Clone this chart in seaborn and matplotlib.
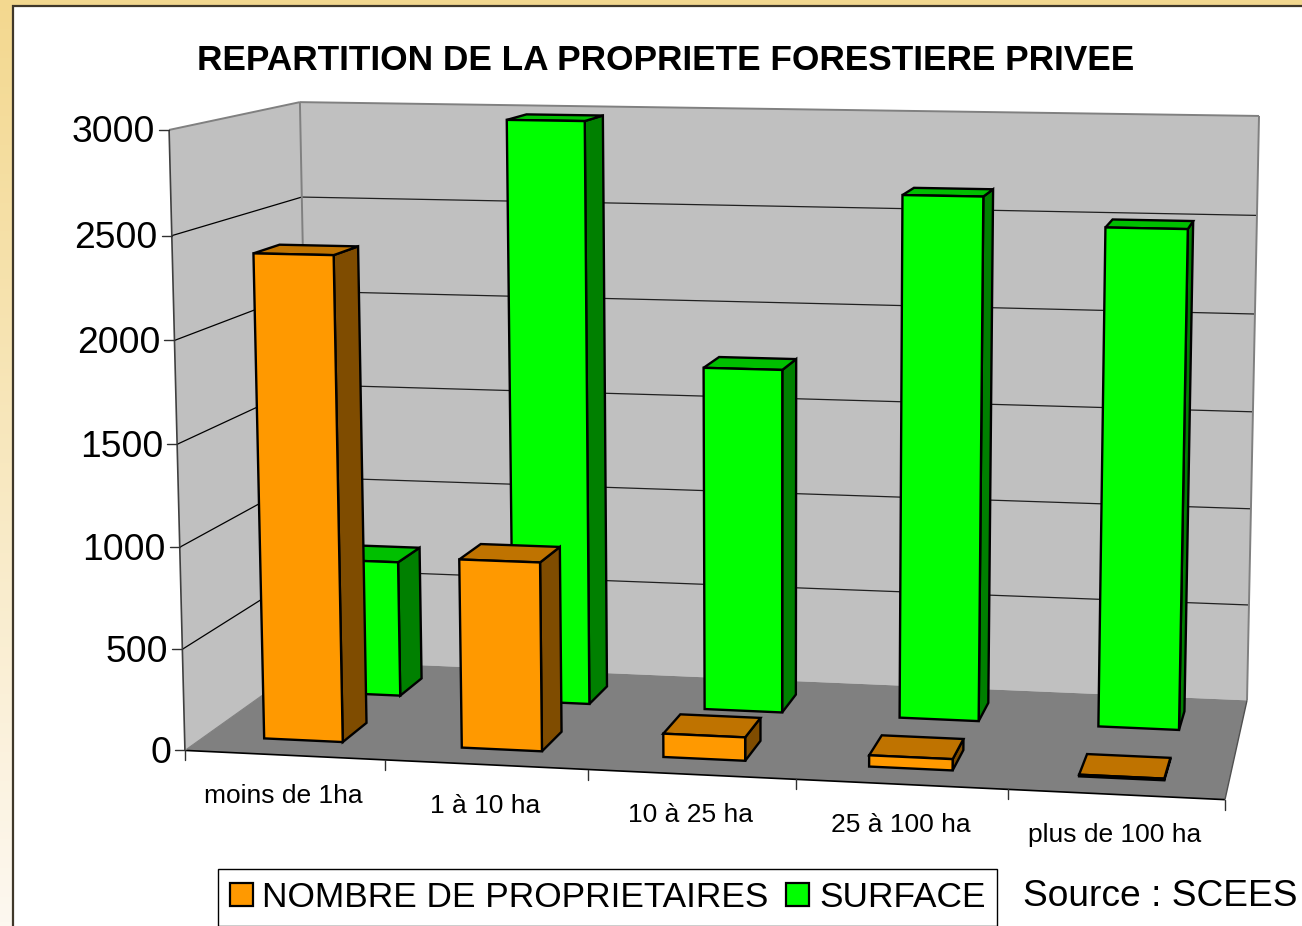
import numpy as np
import pandas as pd
import matplotlib
matplotlib.use("Agg")
import matplotlib.pyplot as plt
from matplotlib.patches import Polygon, Rectangle, Patch
import seaborn as sns

categories = ["moins de 1ha", "1 à 10 ha", "10 à 25 ha", "25 à 100 ha", "plus de 100 ha"]
proprietaires = [2390, 930, 115, 55, 8]
surface = [700, 2975, 1750, 2635, 2495]
series_names = ["NOMBRE DE PROPRIETAIRES", "SURFACE"]
y_ticks = [0, 500, 1000, 1500, 2000, 2500, 3000]
y_max = 3000
title = "REPARTITION DE LA PROPRIETE FORESTIERE PRIVEE"
source = "Source : SCEES"

sns.set_theme(style="white")
plt.rcParams["font.family"] = ["Liberation Sans", "DejaVu Sans"]

W, H = 1302, 926
fig = plt.figure(figsize=(W / 100, H / 100), dpi=100)
ax = fig.add_axes([0, 0, 1, 1])
ax.set_xlim(0, W)
ax.set_ylim(H, 0)
ax.axis("off")

# Bar extents come from seaborn, on a hidden axes
df = pd.DataFrame({
    "cat": categories * 2,
    "value": proprietaires + surface,
    "series": [series_names[0]] * 5 + [series_names[1]] * 5,
})
palette = {series_names[0]: "#FF9900", series_names[1]: "#00FF00"}
helper = fig.add_axes([0, 0, 1, 1])
sns.barplot(data=df, x="cat", y="value", hue="series", dodge=False, width=0.4,
            palette=palette, ax=helper, legend=False, errorbar=None)
helper.set_visible(False)

# Camera: world (u across, v depth, w height) -> picture pixels
calib_world = [(0, 0, 0), (1, 0, 0), (1, 1, 0), (0, 1, 0), (0, 0, 1), (0, 1, 1), (1, 1, 1)]
calib_px = [(185, 750), (1225, 800), (1247, 700), (311, 661), (169, 130), (300, 102), (1259, 116)]
A = []
for (a, b, c), (px, py) in zip(calib_world, calib_px):
    A.append([a, b, c, 1, 0, 0, 0, 0, -px * a, -px * b, -px * c, -px])
    A.append([0, 0, 0, 0, a, b, c, 1, -py * a, -py * b, -py * c, -py])
P = np.linalg.svd(np.array(A, float))[2][-1].reshape(3, 4)


def proj(u, v, w):
    q = P @ np.array([u, v, w, 1.0])
    return q[0] / q[2], q[1] / q[2]


def uo(x):
    return (x + 0.5) / len(categories)


# Page background
grad = np.linspace(0, 1, 256)[:, None]
c0, c1 = np.array([243, 216, 143]) / 255, np.array([253, 248, 240]) / 255
img = (c0 + (c1 - c0) * grad)[:, None, :].reshape(256, 1, 3)
ax.imshow(img, extent=(0, W, H, 0), aspect="auto", zorder=0)
ax.set_xlim(0, W)
ax.set_ylim(H, 0)
ax.add_patch(Rectangle((13, 6), W + 20, H + 20, fc="white", ec="#40382a", lw=1.6, zorder=1))

z = 2


def face(pts, fc, ec="black", lw=1.7):
    global z
    z += 1
    ax.add_patch(Polygon([proj(*p) for p in pts], closed=True, fc=fc, ec=ec, lw=lw,
                         joinstyle="miter", zorder=z))


# Walls and floor
face([(0, 0, 0), (0, 1, 0), (0, 1, 1), (0, 0, 1)], "#C0C0C0", ec="none", lw=0)
face([(0, 1, 0), (1, 1, 0), (1, 1, 1), (0, 1, 1)], "#C0C0C0", ec="none", lw=0)
face([(0, 0, 0), (1, 0, 0), (1, 1, 0), (0, 1, 0)], "#808080", ec="none", lw=0)


def line(p, q, color="black", lw=1.0):
    global z
    z += 1
    a, b = proj(*p), proj(*q)
    ax.plot([a[0], b[0]], [a[1], b[1]], color=color, lw=lw, zorder=z, solid_capstyle="butt")


for t in y_ticks[1:-1]:
    w = t / y_max
    line((0, 0, w), (0, 1, w), "black", 0.9)
    line((0, 1, w), (1, 1, w), "#202020", 0.9)
line((0, 0, 1), (0, 1, 1), "#808080", 1.4)
line((0, 1, 1), (1, 1, 1), "#808080", 1.4)
line((1, 1, 1), (1, 1, 0), "#808080", 1.4)
line((0, 1, 0), (0, 1, 1), "#808080", 1.4)
line((0, 0, 0), (0, 0, 1), "#404040", 1.2)
line((0, 0, 0), (1, 0, 0), "black", 1.2)
line((1, 0, 0), (1, 1, 0), "#505050", 1.0)
line((0, 0, 0), (0, 1, 0), "#808080", 0.8)

# Axis ticks and labels
for t in y_ticks:
    x, y = proj(0, 0, t / y_max)
    z += 1
    ax.plot([x - 10, x], [y, y], color="#303030", lw=1.0, zorder=z)
    ax.text(x - 14, y + 3, str(t), ha="right", va="center", fontsize=26.8, color="black", zorder=z)
for k in range(len(categories) + 1):
    x, y = proj(k / len(categories), 0, 0)
    z += 1
    ax.plot([x, x], [y, y + 10], color="#303030", lw=1.0, zorder=z)
for k, c in enumerate(categories):
    x, y = proj((k + 0.5) / len(categories), 0, 0)
    ax.text(x - 1, y + 41, c, ha="center", va="center", fontsize=19, color="black", zorder=z)

# Bars: back series first, then the front one
depths = {series_names[0]: (0.15, 0.35), series_names[1]: (0.65, 0.85)}
shades = {
    series_names[0]: ("#FF9900", "#7F4C00", "#BF7300"),
    series_names[1]: ("#00FF00", "#008000", "#00BF00"),
}
for name, cont in reversed(list(zip(series_names, helper.containers))):
    v0, v1 = depths[name]
    front, side, top = shades[name]
    for bar in cont:
        a, b = uo(bar.get_x()), uo(bar.get_x() + bar.get_width())
        h = bar.get_height() / y_max
        face([(b, v0, 0), (b, v1, 0), (b, v1, h), (b, v0, h)], side)
        face([(a, v0, h), (b, v0, h), (b, v1, h), (a, v1, h)], top)
        face([(a, v0, 0), (b, v0, 0), (b, v0, h), (a, v0, h)], front)

# Title, legend, source
ax.text(666, 60, title, ha="center", va="center", fontsize=25.4, fontweight="bold", color="black", zorder=z + 1)
handles = [Patch(fc=palette[n], ec="black", lw=1.6, label=n) for n in series_names]
leg = ax.legend(handles=handles, ncol=2, loc="upper left", bbox_to_anchor=(218, 869),
                bbox_transform=ax.transData, fontsize=25.4, frameon=True, fancybox=False,
                edgecolor="black", framealpha=1, borderaxespad=0, handlelength=0.64,
                handleheight=0.64, handletextpad=0.28, columnspacing=0.5, borderpad=0.34,
                labelcolor="black")
leg.set_zorder(z + 1)
leg.get_frame().set_linewidth(1.0)
ax.text(1160, 897, source, ha="center", va="center", fontsize=26.7, color="black", zorder=z + 1)

fig.savefig("out.png", dpi=100)
